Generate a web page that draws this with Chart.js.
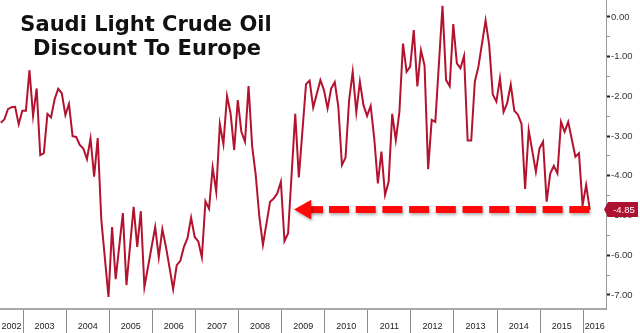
<!DOCTYPE html>
<html>
<head>
<meta charset="utf-8">
<script src="https://cdn.jsdelivr.net/npm/chart.js@4.4.1/dist/chart.umd.min.js"></script>
<style>
    html, body { margin: 0; padding: 0; background: #ffffff; }
    #chart { display: block; }
</style>
</head>
<body>
<canvas id="chart" width="640" height="333"></canvas>
<script>
const months = [
    "2002-06", "2002-07", "2002-08", "2002-09", "2002-10", "2002-11", "2002-12",
    "2003-01", "2003-02", "2003-03", "2003-04", "2003-05", "2003-06", "2003-07", "2003-08", "2003-09", "2003-10", "2003-11", "2003-12",
    "2004-01", "2004-02", "2004-03", "2004-04", "2004-05", "2004-06", "2004-07", "2004-08", "2004-09", "2004-10", "2004-12",
    "2005-01", "2005-02", "2005-04", "2005-05", "2005-07", "2005-08", "2005-09", "2005-10",
    "2006-01", "2006-02", "2006-03", "2006-04", "2006-05", "2006-06", "2006-07", "2006-08", "2006-09", "2006-10", "2006-11", "2006-12",
    "2007-01", "2007-02", "2007-03", "2007-04", "2007-05", "2007-06", "2007-07", "2007-08", "2007-09", "2007-10", "2007-11", "2007-12",
    "2008-01", "2008-02", "2008-03", "2008-04", "2008-05", "2008-06", "2008-07", "2008-09", "2008-10", "2008-11", "2008-12",
    "2009-01", "2009-02", "2009-04", "2009-05", "2009-07", "2009-08", "2009-09", "2009-11", "2009-12",
    "2010-01", "2010-02", "2010-03", "2010-04", "2010-05", "2010-06", "2010-07", "2010-08", "2010-09", "2010-10", "2010-11", "2010-12",
    "2011-01", "2011-02", "2011-03", "2011-04", "2011-05", "2011-06", "2011-07", "2011-08", "2011-09", "2011-10", "2011-11", "2011-12",
    "2012-01", "2012-02", "2012-03", "2012-04", "2012-05", "2012-06", "2012-07", "2012-09", "2012-10", "2012-11", "2012-12",
    "2013-01", "2013-02", "2013-03", "2013-04", "2013-05", "2013-06", "2013-07", "2013-09", "2013-10", "2013-11", "2013-12",
    "2014-01", "2014-02", "2014-03", "2014-04", "2014-05", "2014-06", "2014-07", "2014-08", "2014-09", "2014-11", "2014-12",
    "2015-01", "2015-02", "2015-03", "2015-04", "2015-05", "2015-06", "2015-07", "2015-08", "2015-10", "2015-11", "2015-12",
    "2016-01", "2016-02"
];

const discount = [
    -2.66, -2.58, -2.32, -2.27, -2.26, -2.70, -2.36,
    -2.36, -1.34, -2.49, -1.80, -3.48, -3.43, -2.44, -2.53, -2.07, -1.81, -1.92, -2.47,
    -2.19, -3.00, -3.02, -3.22, -3.31, -3.58, -3.06, -4.02, -3.05, -5.11, -7.05,
    -5.29, -6.60, -4.94, -6.75, -4.78, -5.79, -4.89, -6.80,
    -5.29, -6.05, -5.34, -5.79, -6.31, -6.85, -6.25, -6.14, -5.79, -5.57, -5.05, -5.54,
    -5.65, -6.05, -4.64, -4.83, -3.79, -4.40, -2.70, -3.20, -1.99, -2.43, -3.35, -2.09,
    -2.89, -3.14, -1.74, -3.25, -3.98, -5.03, -5.74, -4.65, -4.57, -4.44, -4.15,
    -5.64, -5.45, -2.44, -4.04, -1.69, -1.60, -2.28, -1.59, -1.84,
    -2.30, -1.80, -1.64, -2.26, -3.73, -3.54, -2.09, -1.38, -2.40, -1.63, -2.22, -2.49,
    -2.24, -3.06, -4.19, -3.39, -4.48, -4.15, -2.44, -3.10, -2.39, -0.67, -1.38, -1.25,
    -0.33, -1.75, -0.84, -1.22, -3.83, -2.59, -2.64, 0.28, -1.59, -1.74, -0.18,
    -1.17, -1.29, -0.98, -3.11, -3.11, -1.63, -1.25, -0.09, -0.71, -1.95, -2.13,
    -1.54, -2.39, -2.17, -1.70, -2.36, -2.46, -2.69, -4.33, -2.85, -3.90, -3.31,
    -3.14, -4.65, -3.94, -3.75, -3.94, -2.64, -2.89, -2.64, -3.52, -3.43, -4.74,
    -4.23, -4.85
];

const yTicks = [-7, -6.5, -6, -5.5, -5, -4.5, -4, -3.5, -3, -2.5, -2, -1.5, -1, -0.5, 0];
const years = [2003, 2004, 2005, 2006, 2007, 2008, 2009, 2010, 2011, 2012, 2013, 2014, 2015, 2016];

const xMin = 2002.466;
const xMax = 2016.527;
const yMin = -7.353;
const yMax = 0.428;

// arrow pointing at the latest reading
const arrowLevel = discount[discount.length - 1];
const arrowStub = [2009.555, 2009.96];
const arrowDash = [2010.10, 2016.20];

const titleLines = ["Saudi Light Crude Oil", "Discount To Europe"];

const LINE_COLOR = "#b3132f";
const ARROW_COLOR = "#ff0808";

function toYear(m) {
    const parts = m.split("-");
    return Number(parts[0]) + (Number(parts[1]) - 0.2) / 12;
}

const points = months.map((m, i) => ({ x: toYear(m), y: discount[i] }));

// no extra room around the plot, the axes sit flush with the canvas edges
function noPadding(scale) {
    scale.paddingLeft = 0;
    scale.paddingRight = 0;
    scale.paddingTop = 0;
    scale.paddingBottom = 0;
}

const arrowShadow = {
    id: "arrowShadow",
    beforeDatasetDraw(chart, args) {
        if (args.index === 0) return;
        chart.ctx.save();
        chart.ctx.shadowColor = "rgba(0,0,0,0.3)";
        chart.ctx.shadowBlur = 3;
        chart.ctx.shadowOffsetX = 1;
        chart.ctx.shadowOffsetY = 2;
    },
    afterDatasetDraw(chart, args) {
        if (args.index === 0) return;
        chart.ctx.restore();
    }
};

const extras = {
    id: "extras",
    afterDraw(chart) {
        const ctx = chart.ctx;
        const yScale = chart.scales.y;

        // title
        ctx.save();
        ctx.fillStyle = "#111111";
        ctx.font = 'bold 21px "DejaVu Sans"';
        ctx.textAlign = "center";
        ctx.textBaseline = "alphabetic";
        ctx.fillText(titleLines[0], 146, 31);
        ctx.fillText(titleLines[1], 147, 55);
        ctx.restore();

        // last value callout on the right axis
        const y = yScale.getPixelForValue(arrowLevel);
        const left = yScale.left + 2;
        const right = left + 30;
        ctx.save();
        ctx.fillStyle = "#ad1230";
        ctx.beginPath();
        ctx.moveTo(left - 4, y);
        ctx.lineTo(left, y - 7.5);
        ctx.lineTo(right, y - 7.5);
        ctx.lineTo(right, y + 7.5);
        ctx.lineTo(left, y + 7.5);
        ctx.closePath();
        ctx.fill();
        ctx.fillStyle = "#ffffff";
        ctx.font = '9.5px "Liberation Sans"';
        ctx.textAlign = "center";
        ctx.textBaseline = "middle";
        ctx.fillText(arrowLevel.toFixed(2), (left + right) / 2 + 1, y + 0.5);
        ctx.restore();
    }
};

new Chart(document.getElementById("chart"), {
    type: "line",
    data: {
        datasets: [
            {
                data: points,
                borderColor: LINE_COLOR,
                borderWidth: 2,
                pointRadius: 0,
                tension: 0,
                order: 1
            },
            {
                data: [{ x: arrowDash[0], y: arrowLevel }, { x: arrowDash[1], y: arrowLevel }],
                borderColor: ARROW_COLOR,
                borderWidth: 7,
                borderDash: [20, 6.7],
                borderCapStyle: "butt",
                pointRadius: 0,
                order: 0
            },
            {
                data: [{ x: arrowStub[0], y: arrowLevel }, { x: arrowStub[1], y: arrowLevel }],
                borderColor: ARROW_COLOR,
                borderWidth: 7,
                borderCapStyle: "butt",
                pointStyle: "triangle",
                pointRotation: -90,
                pointRadius: [11.5, 0],
                pointBorderWidth: 0,
                pointBackgroundColor: ARROW_COLOR,
                pointBorderColor: ARROW_COLOR,
                order: 0
            }
        ]
    },
    options: {
        responsive: false,
        animation: false,
        layout: { padding: 0, autoPadding: false },
        plugins: {
            legend: { display: false },
            tooltip: { enabled: false },
            title: { display: false }
        },
        scales: {
            x: {
                type: "linear",
                position: "bottom",
                min: xMin,
                max: xMax,
                afterBuildTicks: (scale) => {
                    const ticks = [];
                    ticks.push({ value: (xMin + years[0]) / 2 });
                    years.forEach((yr, i) => {
                        ticks.push({ value: yr });
                        const next = i < years.length - 1 ? years[i + 1] : xMax;
                        ticks.push({ value: (yr + next) / 2 });
                    });
                    scale.ticks = ticks;
                },
                afterFit: (scale) => {
                    scale.height = 24;
                    noPadding(scale);
                },
                grid: {
                    drawOnChartArea: false,
                    drawTicks: true,
                    tickLength: 24,
                    color: (c) => (c.tick && Number.isInteger(c.tick.value)) ? "#8c8c8c" : "rgba(0,0,0,0)",
                    lineWidth: 1
                },
                border: { display: true, color: "#a8a8a8", width: 2 },
                ticks: {
                    autoSkip: false,
                    maxRotation: 0,
                    minRotation: 0,
                    padding: -12,
                    color: "#222222",
                    font: { family: "Liberation Sans", size: 9 },
                    callback: (v) => Number.isInteger(v) ? "" : String(Math.floor(v))
                }
            },
            y: {
                type: "linear",
                position: "right",
                min: yMin,
                max: yMax,
                afterBuildTicks: (scale) => {
                    scale.ticks = yTicks.map(v => ({ value: v }));
                },
                afterFit: (scale) => {
                    scale.width = 34;
                    noPadding(scale);
                },
                grid: {
                    drawOnChartArea: false,
                    drawTicks: true,
                    tickLength: 4,
                    tickColor: (c) => Number.isInteger(c.tick.value) ? "#222222" : "#9a9a9a",
                    tickWidth: (c) => Number.isInteger(c.tick.value) ? 2 : 1
                },
                border: { display: true, color: "#9a9a9a", width: 1 },
                ticks: {
                    padding: 1,
                    color: "#333333",
                    font: { family: "Liberation Sans", size: 9.5 },
                    callback: (v) => Number.isInteger(v) ? v.toFixed(2) : ""
                }
            }
        }
    },
    plugins: [arrowShadow, extras]
});
</script>
</body>
</html>
